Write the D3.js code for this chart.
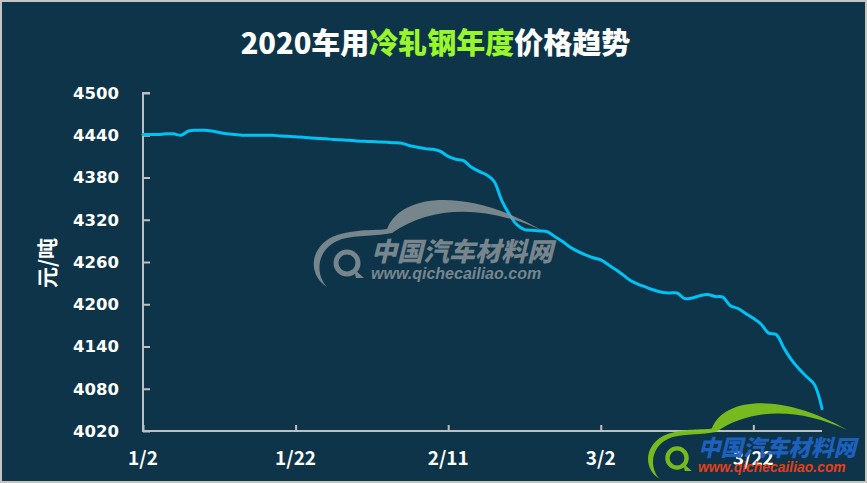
<!DOCTYPE html>
<html>
<head>
<meta charset="utf-8">
<script src="https://cdn.jsdelivr.net/npm/d3@7"></script>
<style>
  html, body { margin: 0; padding: 0; background: #0d3449; }
  svg { display: block; }
</style>
</head>
<body>
<div id="chart"></div>
<script>
// Daily cold-rolled steel price, 2020-01-02 .. 2020-03-31 (yuan / tonne)
const startDate = new Date(2020, 0, 2);
const endDate = new Date(2020, 2, 31);
const prices = [
  4441, 4441, 4441, 4442, 4442, 4440, 4446, 4447, 4447, 4446,
  4444, 4442, 4441, 4440, 4440, 4440, 4440, 4440, 4439, 4438.5,
  4438, 4437, 4436, 4435.5, 4435, 4434, 4433.5, 4433, 4432, 4431.5,
  4431, 4430.5, 4430, 4429.5, 4428.5, 4425, 4423, 4421, 4420, 4417,
  4410, 4406, 4404, 4395, 4389, 4384, 4375, 4348, 4328, 4313,
  4306, 4305, 4304, 4303, 4296, 4289, 4281, 4275, 4270, 4266,
  4263, 4256, 4249, 4241, 4233, 4228, 4224, 4220, 4217, 4216,
  4216, 4208, 4209, 4212, 4214, 4211, 4210, 4198, 4194, 4187,
  4180, 4172, 4159, 4157, 4138, 4121, 4108, 4097, 4086, 4052
];
const xTickLabels = ["1/2", "1/22", "2/11", "3/2", "3/22"];
const yTicks = [4020, 4080, 4140, 4200, 4260, 4320, 4380, 4440, 4500];

const titleParts = [
  { text: "2020车用", color: "#ffffff" },
  { text: "冷轧钢年度", color: "#99f52c" },
  { text: "价格趋势", color: "#ffffff" }
];

const width = 867, height = 483;
const dates = d3.timeDay.range(startDate, d3.timeDay.offset(endDate, 1));
const series = dates.map((d, i) => ({ date: d, value: prices[i] }));

const svg = d3.select("#chart").append("svg")
  .attr("width", width)
  .attr("height", height);

svg.append("rect")
  .attr("x", 1).attr("y", 1)
  .attr("width", width - 2).attr("height", height - 2)
  .attr("fill", "#0d3449")
  .attr("stroke", "#c4c4c4")
  .attr("stroke-width", 2);

const x = d3.scaleTime().domain([startDate, endDate]).range([143, 822]);
const y = d3.scaleLinear().domain([4020, 4500]).range([431, 93]);

const parseLabel = s => {
  const [m, d] = s.split("/").map(Number);
  return new Date(2020, m - 1, d);
};

// Title
const title = svg.append("text")
  .attr("x", width / 2 + 2)
  .attr("y", 54)
  .attr("text-anchor", "middle")
  .style("font-family", "'Noto Sans CJK SC', sans-serif")
  .style("font-weight", "900")
  .style("font-size", "29px");
title.selectAll("tspan")
  .data(titleParts)
  .join("tspan")
  .attr("fill", d => d.color)
  .text(d => d.text);

// Y axis
const yAxis = svg.append("g")
  .attr("transform", "translate(143,0)")
  .call(d3.axisRight(y).tickValues(yTicks).tickSize(7).tickFormat(""));
yAxis.select(".domain").attr("stroke", "#bfbfbf").attr("stroke-width", 2)
  .attr("d", `M7,${y(4500)}H0V${y(4020)}`);
yAxis.selectAll(".tick line").attr("stroke", "#bfbfbf").attr("stroke-width", 2);

svg.append("g")
  .selectAll("text")
  .data(yTicks)
  .join("text")
  .attr("x", 119)
  .attr("y", d => y(d))
  .attr("dy", "0.36em")
  .attr("text-anchor", "end")
  .attr("fill", "#ffffff")
  .style("font-family", "'DejaVu Sans', sans-serif")
  .style("font-weight", "bold")
  .style("font-size", "16.5px")
  .text(d => d);

svg.append("text")
  .attr("transform", "translate(55,263) rotate(-90)")
  .attr("text-anchor", "middle")
  .attr("fill", "#ffffff")
  .style("font-family", "'Noto Sans CJK SC', sans-serif")
  .style("font-weight", "bold")
  .style("font-size", "21px")
  .text("元/吨");

// X axis
const xAxis = svg.append("g")
  .attr("transform", `translate(0,${y(4020)})`)
  .call(d3.axisTop(x).tickValues(xTickLabels.map(parseLabel)).tickSize(6).tickFormat(""));
xAxis.select(".domain").attr("stroke", "#bfbfbf").attr("stroke-width", 2)
  .attr("d", `M142,0H${x(endDate)}`);
xAxis.selectAll(".tick line").attr("stroke", "#bfbfbf").attr("stroke-width", 2);

svg.append("g")
  .selectAll("text")
  .data(xTickLabels)
  .join("text")
  .attr("x", d => x(parseLabel(d)))
  .attr("y", 465)
  .attr("text-anchor", "middle")
  .attr("fill", "#ffffff")
  .style("font-family", "'Noto Sans CJK SC', sans-serif")
  .style("font-weight", "bold")
  .style("font-size", "19px")
  .text(d => d);

// Price line
svg.append("path")
  .datum(series)
  .attr("fill", "none")
  .attr("stroke", "#00c2f5")
  .attr("stroke-width", 3)
  .attr("stroke-linecap", "round")
  .attr("stroke-linejoin", "round")
  .attr("d", d3.line()
    .x(d => x(d.date))
    .y(d => y(d.value))
    .curve(d3.curveCatmullRom.alpha(0.5)));

// Watermarks (car-roof swoosh + "Q" ring + site name)
function watermark(g, c) {
  g.append("path")
    .attr("d",
      "M-20,24 C-40,12 -38,-18 -10,-28 C15,-35 30,-32 40,-34 " +
      "C55,-72 125,-74 196,-32 C140,-58 85,-58 45,-30 " +
      "C30,-27 10,-28 -5,-24 C-30,-16 -33,10 -20,24 Z")
    .attr("fill", c.arc);
  g.append("circle").attr("cx", 0).attr("cy", 0).attr("r", 11)
    .attr("fill", "none").attr("stroke", c.arc).attr("stroke-width", 5);
  g.append("path").attr("d", "M7,6 L17,15 L9,15 Z").attr("fill", c.arc);
  g.append("text")
    .attr("x", 24).attr("y", -2)
    .attr("fill", c.name)
    .style("font-family", "'Noto Sans CJK SC', sans-serif")
    .style("font-weight", "900")
    .style("font-style", "italic")
    .style("font-size", "26px")
    .text("中国汽车材料网");
  g.append("text")
    .attr("x", 24).attr("y", 16)
    .attr("fill", c.url)
    .style("font-family", "'Liberation Sans', Arial, sans-serif")
    .style("font-weight", "bold")
    .style("font-style", "italic")
    .style("font-size", "16px")
    .text("www.qichecailiao.com");
}

const wm1 = svg.append("g").attr("transform", "translate(347,263)").attr("opacity", 0.85);
watermark(wm1, { arc: "#8a9499", name: "#8a9499", url: "#8a9499" });

const wm2 = svg.append("g").attr("transform", "translate(677,458) scale(0.87)").attr("opacity", 0.95);
watermark(wm2, { arc: "#7dc21e", name: "#1f63c4", url: "#f0401a" });
</script>
</body>
</html>
